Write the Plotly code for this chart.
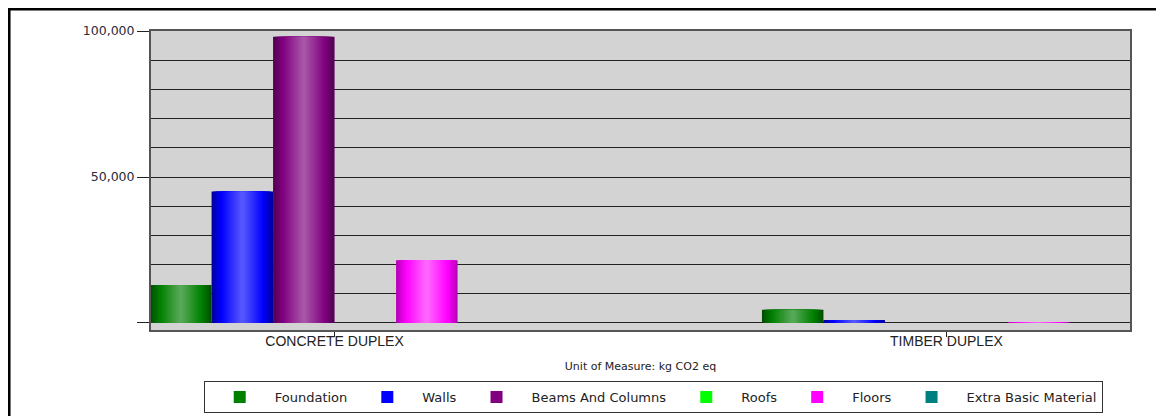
import plotly.graph_objects as go

categories = ["CONCRETE DUPLEX", "TIMBER DUPLEX"]
series_names = ["Foundation", "Walls", "Beams And Columns", "Roofs", "Floors", "Extra Basic Material"]
foundation = [13000, 4500]
walls = [45000, 1000]
beams_and_columns = [98000, 0]
roofs = [0, 0]
floors = [21500, 300]
extra_basic_material = [0, 0]
y_tick_vals = [0, 50000, 100000]
y_tick_text = ["", "50,000", "100,000"]

values = [foundation, walls, beams_and_columns, roofs, floors, extra_basic_material]
# (edge colour, legend colour, highlight colour) for each series
palettes = [
    ("#005200", "#008000", "#55a855"),
    ("#0000a0", "#0000ff", "#5555ff"),
    ("#560056", "#800080", "#a855a8"),
    ("#00b000", "#00ff00", "#77ff77"),
    ("#b800b8", "#ff00ff", "#ff66ff"),
    ("#005656", "#008080", "#55aaaa"),
]


def hex_to_rgb(h):
    h = h.lstrip("#")
    return tuple(int(h[i:i + 2], 16) for i in (0, 2, 4))


def mix(c1, c2, t):
    a, b = hex_to_rgb(c1), hex_to_rgb(c2)
    return "rgb(%d,%d,%d)" % tuple(round(a[k] + (b[k] - a[k]) * t) for k in range(3))


group_width = 0.603
n_series = len(series_names)
bar_w = group_width / n_series
n_layers = 14
legend_layer = 4

fig = go.Figure()
for i, (name, vals, pal) in enumerate(zip(series_names, values, palettes)):
    edge, pure, light = pal
    start = -group_width / 2 + i * bar_w
    for j in range(n_layers):
        frac = 1 - j / n_layers
        if j == legend_layer:
            col = pure
        elif j < legend_layer:
            col = mix(edge, pure, j / legend_layer)
        else:
            col = mix(pure, light, (j - legend_layer) / (n_layers - 1 - legend_layer))
        w = bar_w * frac
        fig.add_trace(go.Bar(
            name=name, x=categories, y=vals,
            offset=start + (bar_w - w) / 2, width=w,
            marker=dict(color=col, line=dict(width=0)),
            legendgroup=name,
            showlegend=(j == legend_layer),
            hoverinfo="x+y+name" if j == legend_layer else "skip",
        ))

sans = "Liberation Sans, Arial, sans-serif"
wide = "DejaVu Sans, Verdana, sans-serif"

fig.update_layout(
    width=1156, height=408,
    margin=dict(l=143, r=34, t=23, b=86, autoexpand=False),
    paper_bgcolor="white",
    plot_bgcolor="#d3d3d3",
    barmode="overlay",
    font=dict(family=sans, size=12, color="#222222"),
    showlegend=True,
    legend=dict(
        orientation="h",
        x=0.513, xanchor="center",
        y=-0.224, yanchor="middle",
        bgcolor="white",
        bordercolor="#333333", borderwidth=1,
        font=dict(family=wide, size=13, color="#222222"),
        itemwidth=60,
        traceorder="normal",
    ),
    xaxis=dict(
        range=[-0.30, 1.30],
        showgrid=False,
        ticks="outside", ticklen=5, tickcolor="#222222",
        ticklabelstandoff=-8,
        showline=True, linecolor="#555555", linewidth=2, mirror=True,
        tickfont=dict(family=sans, size=14, color="#222222"),
        title=dict(text="Unit of Measure: kg CO2 eq", font=dict(family=wide, size=11, color="#222222"), standoff=15),
        zeroline=False,
    ),
    yaxis=dict(
        range=[-2400, 100000],
        tickvals=y_tick_vals, ticktext=y_tick_text,
        ticks="outside", ticklen=12, tickcolor="#222222",
        showgrid=True, gridcolor="#222222", gridwidth=1,
        minor=dict(dtick=10000, showgrid=True, gridcolor="#222222", gridwidth=1, ticks=""),
        zeroline=True, zerolinecolor="#222222", zerolinewidth=1,
        showline=True, linecolor="#555555", linewidth=2, mirror=True,
        tickfont=dict(family=wide, size=12.5, color="#2a2a3a"),
    ),
    shapes=[dict(
        type="rect", xref="paper", yref="paper",
        x0=-0.145, x1=1.1, y0=-0.35, y1=1.0736,
        line=dict(color="black", width=3), fillcolor="rgba(0,0,0,0)", layer="below",
    )],
)

fig.write_html("out.html")
